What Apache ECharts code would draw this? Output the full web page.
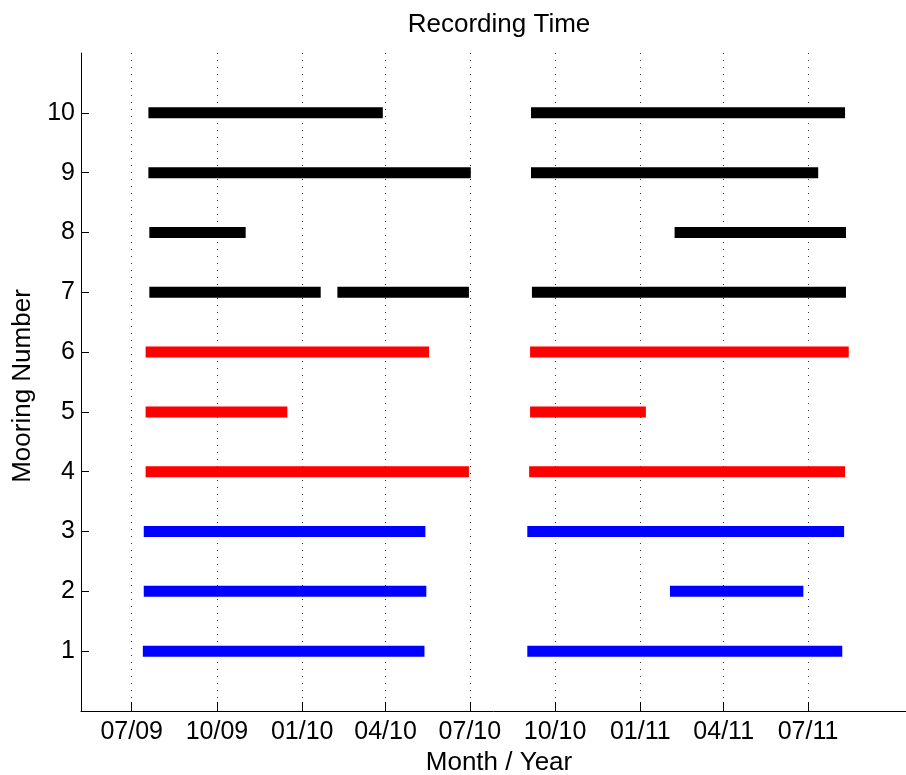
<!DOCTYPE html>
<html>
<head>
<meta charset="utf-8">
<script src="https://cdn.jsdelivr.net/npm/echarts@6/dist/echarts.min.js"></script>
<style>
html,body{margin:0;padding:0;background:#fff;}
#chart{width:906px;height:775px;}
</style>
</head>
<body>
<div id="chart"></div>
<script>
// ---- Data (dates) ----
const moorings = [1, 2, 3, 4, 5, 6, 7, 8, 9, 10];
const mooringColor = ['blue','blue','blue','red','red','red','black','black','black','black'];
// first deployment
const deploy1Start = ['2009-07-13','2009-07-14','2009-07-14','2009-07-16','2009-07-16','2009-07-16','2009-07-20','2009-07-20','2009-07-19','2009-07-19'];
const deploy1End   = ['2010-05-13','2010-05-15','2010-05-14','2010-06-30','2009-12-16','2010-05-18','2010-06-30','2009-11-01','2010-07-02','2010-03-29'];
// gap in mooring 7 during first deployment
const gapMooring = 7;
const gapStart = '2010-01-21';
const gapEnd   = '2010-02-08';
// second deployment
const deploy2Start = ['2010-09-01','2011-02-02','2010-09-01','2010-09-03','2010-09-04','2010-09-04','2010-09-06','2011-02-07','2010-09-05','2010-09-05'];
const deploy2End   = ['2011-08-07','2011-06-26','2011-08-09','2011-08-10','2011-01-07','2011-08-14','2011-08-11','2011-08-11','2011-07-12','2011-08-10'];
// x tick labels (quarter starts)
const xTickDates = ['2009-07-01','2009-10-01','2010-01-01','2010-04-01','2010-07-01','2010-10-01','2011-01-01','2011-04-01','2011-07-01'];
const yTicks = [1, 2, 3, 4, 5, 6, 7, 8, 9, 10];
const xMinDate = '2009-05-07T06:00';
const xMaxDate = '2011-10-14T19:00';

function ts(s) {
  const [d, t] = s.split('T');
  const [y, m, dd] = d.split('-').map(Number);
  let h = 0, mi = 0;
  if (t) { [h, mi] = t.split(':').map(Number); }
  return Date.UTC(y, m - 1, dd, h, mi);
}

function buildSegments(color) {
  const out = [];
  moorings.forEach((m, i) => {
    if (mooringColor[i] !== color) return;
    if (m === gapMooring) {
      out.push([ts(deploy1Start[i]), ts(gapStart), m]);
      out.push([ts(gapEnd), ts(deploy1End[i]), m]);
    } else {
      out.push([ts(deploy1Start[i]), ts(deploy1End[i]), m]);
    }
    out.push([ts(deploy2Start[i]), ts(deploy2End[i]), m]);
  });
  return out;
}

const colorMap = { blue: '#0000ff', red: '#ff0000', black: '#000000' };
const FONT = 'Liberation Sans';

function renderItem(params, api) {
  const s = api.coord([api.value(0), api.value(2)]);
  const e = api.coord([api.value(1), api.value(2)]);
  const h = 11;
  return {
    type: 'rect',
    shape: { x: s[0], y: s[1] - h / 2, width: e[0] - s[0], height: h },
    style: { fill: api.visual('color') }
  };
}

const chart = echarts.init(document.getElementById('chart'), null, { renderer: 'canvas' });
const option = {
  backgroundColor: '#ffffff',
  animation: false,
  title: {
    text: 'Recording Time',
    left: 494,
    textAlign: 'center',
    top: 7,
    textStyle: { fontFamily: FONT, fontSize: 26, fontWeight: 'normal', color: '#000' }
  },
  grid: { left: 81, right: 0, top: 53, bottom: 64, containLabel: false, outerBoundsMode: 'none' },
  xAxis: {
    type: 'value',
    min: ts(xMinDate),
    max: ts(xMaxDate),
    name: 'Month / Year',
    nameLocation: 'middle',
    nameGap: 35,
    nameTextStyle: { fontFamily: FONT, fontSize: 26, color: '#000', padding: [0, 0, 0, 11] },
    axisLine: { show: true, lineStyle: { color: '#000', width: 1 } },
    axisTick: {
      show: true, inside: true, length: 9,
      customValues: xTickDates.map(ts),
      lineStyle: { color: '#000', width: 1 }
    },
    axisLabel: {
      show: true, margin: 9,
      customValues: xTickDates.map(ts),
      fontFamily: FONT, fontSize: 25, color: '#000',
      formatter: function (v) {
        const d = new Date(v);
        const mm = String(d.getUTCMonth() + 1).padStart(2, '0');
        const yy = String(d.getUTCFullYear() % 100).padStart(2, '0');
        return mm + '/' + yy;
      }
    },
    splitLine: { show: true, lineStyle: { color: '#333', width: 1, type: [1, 6] } }
  },
  yAxis: {
    type: 'value',
    min: 0,
    max: 11,
    interval: 1,
    name: 'Mooring Number',
    nameLocation: 'middle',
    nameGap: 43,
    nameTextStyle: { fontFamily: FONT, fontSize: 26, color: '#000', padding: [0, 8, 0, 0] },
    axisLine: { show: true, lineStyle: { color: '#000', width: 1 } },
    axisTick: { show: true, inside: true, length: 8, customValues: yTicks, lineStyle: { color: '#000' } },
    axisLabel: { show: true, margin: 6, customValues: yTicks, fontFamily: FONT, fontSize: 25, color: '#000' },
    splitLine: { show: false }
  },
  series: ['blue', 'red', 'black'].map(c => ({
    type: 'custom',
    name: c,
    renderItem: renderItem,
    itemStyle: { color: colorMap[c] },
    encode: { x: [0, 1], y: 2 },
    data: buildSegments(c),
    clip: false
  }))
};
chart.setOption(option);
</script>
</body>
</html>
